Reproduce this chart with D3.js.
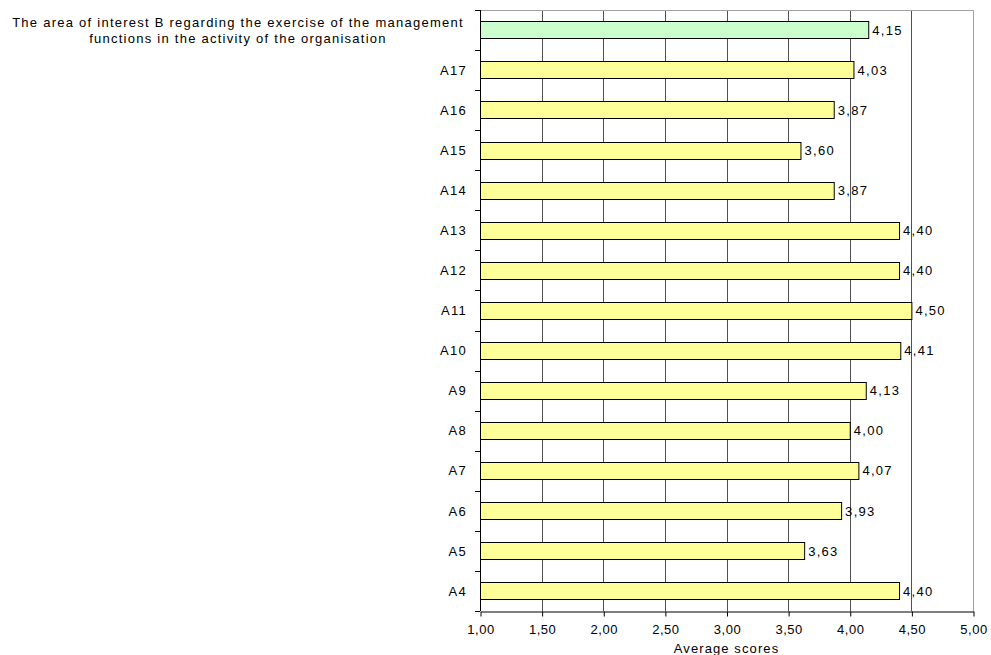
<!DOCTYPE html>
<html>
<head>
<meta charset="utf-8">
<script src="https://cdn.jsdelivr.net/npm/d3@7"></script>
<style>
  html, body { margin: 0; padding: 0; background: #fff; }
  svg { display: block; font-family: "Liberation Sans", Arial, sans-serif; }
</style>
</head>
<body>
<svg id="chart" width="991" height="655"></svg>
<script>
// Categories listed top to bottom
const categories = ["B", "A17", "A16", "A15", "A14", "A13", "A12", "A11", "A10", "A9", "A8", "A7", "A6", "A5", "A4"];
const categoryLabels = {
  B: ["The area of interest B regarding the exercise of the management", "functions in the activity of the organisation"]
};
const scores = [4.15, 4.03, 3.87, 3.60, 3.87, 4.40, 4.40, 4.50, 4.41, 4.13, 4.00, 4.07, 3.93, 3.63, 4.40];
const xTicks = [1.0, 1.5, 2.0, 2.5, 3.0, 3.5, 4.0, 4.5, 5.0];
const axisTitle = "Average scores";

const fmt = v => v.toFixed(2).replace(".", ",");

const svg = d3.select("#chart");
const m = { left: 480, right: 973, top: 10, bottom: 611 };

const x = d3.scaleLinear().domain([1, 5]).range([m.left, m.right]);
const y = d3.scaleBand().domain(categories).range([m.top, m.bottom]).paddingInner(0.565).paddingOuter(0.2825);
const band = d3.scaleBand().domain(categories).range([m.top, m.bottom]);

// vertical gridlines
svg.append("g").selectAll("line")
  .data(xTicks.slice(1, -1))
  .join("line")
  .attr("x1", d => Math.round(x(d)) + 0.5).attr("x2", d => Math.round(x(d)) + 0.5)
  .attr("y1", m.top).attr("y2", m.bottom)
  .attr("stroke", "#505050").attr("stroke-width", 1);

// plot frame (top & right)
svg.append("path")
  .attr("d", `M${m.left},${m.top + 0.5}H${m.right + 0.5}V${m.bottom}`)
  .attr("fill", "none").attr("stroke", "#a0a0a0").attr("stroke-width", 1);

// bars
const data = categories.map((c, i) => ({ c, v: scores[i] }));
svg.append("g").selectAll("rect")
  .data(data)
  .join("rect")
  .attr("x", x(1) + 0.5)
  .attr("y", d => Math.round(y(d.c)) + 0.5)
  .attr("width", d => x(d.v) - x(1))
  .attr("height", Math.round(y.bandwidth()))
  .attr("fill", d => d.c === "B" ? "#ccffcc" : "#ffff99")
  .attr("stroke", "#000").attr("stroke-width", 1);

// value labels
svg.append("g").selectAll("text")
  .data(data)
  .join("text")
  .attr("x", d => x(d.v) + 4)
  .attr("y", d => band(d.c) + band.bandwidth() / 2)
  .attr("dy", "0.36em")
  .attr("font-size", 13)
  .attr("letter-spacing", 1.3)
  .attr("fill", "#000")
  .text(d => fmt(d.v));

// y axis
const yAxis = svg.append("g");
yAxis.append("line")
  .attr("x1", m.left + 0.5).attr("x2", m.left + 0.5)
  .attr("y1", m.top).attr("y2", m.bottom)
  .attr("stroke", "#000");
const boundaries = categories.map(c => band(c)).concat([m.bottom]);
yAxis.selectAll("line.tick")
  .data(boundaries)
  .join("line").attr("class", "tick")
  .attr("x1", m.left - 5).attr("x2", m.left)
  .attr("y1", d => Math.round(d) + 0.5).attr("y2", d => Math.round(d) + 0.5)
  .attr("stroke", "#000");

// category labels
const catG = yAxis.append("g");
data.forEach(d => {
  const cy = band(d.c) + band.bandwidth() / 2;
  const lines = categoryLabels[d.c];
  if (lines) {
    const t = catG.append("text")
      .attr("text-anchor", "middle")
      .attr("font-size", 13)
      .attr("letter-spacing", 1.25)
      .attr("fill", "#000");
    lines.forEach((ln, i) => {
      t.append("tspan")
        .attr("x", 238)
        .attr("y", cy + (i - (lines.length - 1) / 2) * 16)
        .attr("dy", "0.36em")
        .text(ln);
    });
  } else {
    catG.append("text")
      .attr("x", 467).attr("y", cy).attr("dy", "0.36em")
      .attr("text-anchor", "end")
      .attr("font-size", 13)
      .attr("letter-spacing", 1.3)
      .attr("fill", "#000")
      .text(d.c);
  }
});

// x axis
const xAxis = d3.axisBottom(x).tickValues(xTicks).tickFormat(fmt).tickSize(5).tickSizeOuter(0);
const xg = svg.append("g").attr("transform", `translate(0.5,${m.bottom + 0.5})`).call(xAxis);
xg.select(".domain").attr("stroke", "#000");
xg.selectAll(".tick line").attr("stroke", "#000");
xg.selectAll(".tick text")
  .attr("font-size", 13)
  .attr("letter-spacing", 0.5)
  .attr("font-family", "Liberation Sans, Arial, sans-serif")
  .attr("fill", "#000")
  .attr("dy", "1.1em");

svg.append("text")
  .attr("x", (m.left + m.right) / 2)
  .attr("y", 653)
  .attr("text-anchor", "middle")
  .attr("font-size", 13)
  .attr("letter-spacing", 1.1)
  .attr("fill", "#000")
  .text(axisTitle);
</script>
</body>
</html>
